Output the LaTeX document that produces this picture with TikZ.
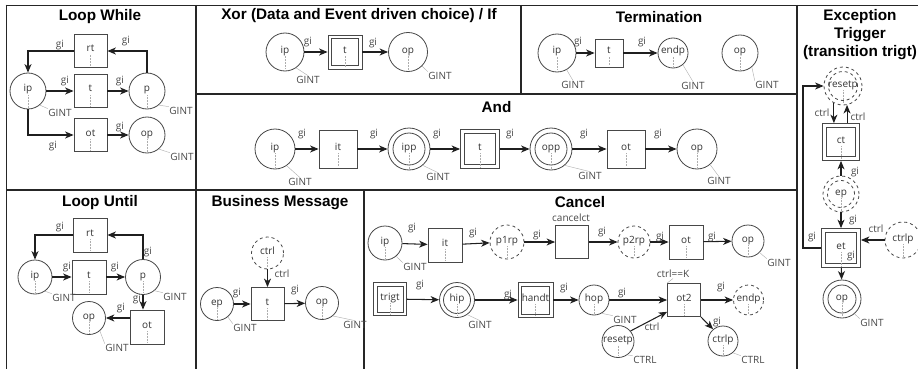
\documentclass[tikz,border=0pt]{standalone}
\usepackage{fontspec}
\newfontfamily\labfont{Open Sans}
\newfontfamily\headfont{Liberation Sans}
\usetikzlibrary{arrows.meta,calc}

\tikzset{
  frame/.style={line width=1.8pt, draw=black!85},
  head/.style={font=\headfont\bfseries\fontsize{15.3}{18}\selectfont, text=black, align=center, inner sep=0pt},
  lab/.style={font=\labfont\fontsize{10}{11}\selectfont, text=black!72, inner sep=0.5pt},
  nd/.style={draw=black!72, line width=0.8pt, inner sep=0pt,
    font=\labfont\fontsize{10}{11}\selectfont, text=black!80, text height=6pt, text depth=4pt},
  place/.style={nd, circle, minimum size=#1},
  place/.default=34pt,
  trans/.style={nd, rectangle, minimum size=#1},
  trans/.default=33pt,
  % second, inner border of a double box / double circle
  dblbox/.style={path picture={\draw[black!72, line width=0.8pt, solid]
      ([shift={(#1,-#1)}]path picture bounding box.north west) rectangle
      ([shift={(-#1,#1)}]path picture bounding box.south east);}},
  dblring/.style={path picture={\draw[black!72, line width=0.8pt, solid]
      (path picture bounding box.center) circle[radius=#1];}},
  dashring/.style={path picture={\draw[black!72, line width=0.8pt, dashed]
      (path picture bounding box.center) circle[radius=#1];}},
  flow/.style={-{Stealth[length=8.5pt,width=7pt,inset=2.5pt]}, line width=1.05pt, draw=black!88},
  lead/.style={draw=black!30, line width=0.45pt},
  inner/.style={draw=black!32, densely dotted, line width=0.5pt}
}

\begin{document}
\begin{tikzpicture}[x=1pt,y=-1pt]
\useasboundingbox (0,0) rectangle (918,369);

% panel grid
\draw[frame] (5.6,5.5) -- (918,5.5);
\draw[frame] (6.5,4.6) -- (6.5,369);
\draw[frame] (196,5) -- (196,369);
\draw[frame] (797,5) -- (797,369);
\draw[frame] (521,5) -- (521,94);
\draw[frame] (196,94) -- (797,94);
\draw[frame] (6,190) -- (797,190);
\draw[frame] (364,190) -- (364,369);

% panel headings
\node[head] (h-lw) at (100,17) {Loop While};
\node[head] (h-xor) at (359,16) {Xor (Data and Event driven choice) / If};
\node[head] (h-term) at (659,17) {Termination};
\node[head] (h-and) at (496.5,107) {And};
\node[head] (h-exc) at (860,35) {Exception\\Trigger\\(transition trigt)};
\node[head] (h-lu) at (100,203) {Loop Until};
\node[head] (h-bm) at (280,203) {Business Message};
\node[head] (h-can) at (580,202) {Cancel};

% ---------------- Loop While
\node[trans] (lw-rt) at (90.5,51) {rt};
\node[trans] (lw-t) at (90.5,91) {t};
\node[trans] (lw-ot) at (90.5,135) {ot};
\node[place=36pt] (lw-ip) at (28,91) {ip};
\node[place=36pt] (lw-p) at (147,91) {p};
\node[place=36pt] (lw-op) at (147,135) {op};
\draw[flow] (lw-rt.west) -| (lw-ip.north);
\draw[flow] (lw-p.north) |- (lw-rt.east);
\draw[flow] (lw-ip) -- (lw-t);
\draw[flow] (lw-t) -- (lw-p);
\draw[flow] (lw-ip.south) |- (lw-ot.west);
\draw[flow] (lw-ot) -- (lw-op);
\node[lab] (lw-g1) at (60,45) {gi};
\node[lab] (lw-g2) at (126,41) {gi};
\node[lab] (lw-g3) at (65,81) {gi};
\node[lab] (lw-g4) at (120,81) {gi};
\node[lab] (lw-g5) at (53,146) {gi};
\node[lab] (lw-g6) at (120,127) {gi};
\node[lab] (lw-n1) at (60,113) {GINT};
\node[lab] (lw-n2) at (181,111) {GINT};
\node[lab] (lw-n3) at (182,157) {GINT};
\draw[lead] (lw-ip.-50) -- (lw-n1.north west);
\draw[lead] (lw-p.-50) -- (lw-n2.north west);
\draw[lead] (lw-op.-50) -- (lw-n3.north west);

% ---------------- Xor / If
\node[place=38pt] (x-ip) at (285,52) {ip};
\node[trans=34pt, dblbox=3.5pt] (x-t) at (345,52) {t};
\node[place=39pt] (x-op) at (408,52) {op};
\draw[flow] (x-ip) -- (x-t);
\draw[flow] (x-t) -- (x-op);
\node[lab] (x-g1) at (308,42) {gi};
\node[lab] (x-g2) at (373,43) {gi};
\node[lab] (x-n1) at (308,80) {GINT};
\node[lab] (x-n2) at (440,76) {GINT};
\draw[lead] (x-ip.-55) -- (x-n1.north);
\draw[lead] (x-op.-45) -- (x-n2.north west);

% ---------------- Termination
\node[place=38pt] (tm-ip) at (557,53) {ip};
\node[trans=28pt] (tm-t) at (609,53) {t};
\node[place=30pt] (tm-endp) at (673,53) {endp};
\node[place=36pt] (tm-op) at (740,53) {op};
\draw[flow] (tm-ip) -- (tm-t);
\draw[flow] (tm-t) -- (tm-endp);
\node[lab] (tm-g1) at (578,42) {gi};
\node[lab] (tm-g2) at (642,42) {gi};
\node[lab] (tm-n1) at (573,85) {GINT};
\node[lab] (tm-n2) at (693,86) {GINT};
\node[lab] (tm-n3) at (767,85) {GINT};
\draw[lead] (tm-ip.-60) -- (tm-n1.north);
\draw[lead] (tm-endp.-50) -- (tm-n2.north);
\draw[lead] (tm-op.-50) -- (tm-n3.north west);

% ---------------- And
\node[place=40pt] (a-ip) at (275,149) {ip};
\node[trans=38pt] (a-it) at (338,149) {it};
\node[place=42pt, dblring=16pt] (a-ipp) at (409,149) {ipp};
\node[trans=39pt, dblbox=4pt] (a-t) at (480,149) {t};
\node[place=42pt, dblring=16pt] (a-opp) at (551,149) {opp};
\node[trans=38pt] (a-ot) at (626,149) {ot};
\node[place=40pt] (a-op) at (697,149) {op};
\draw[flow] (a-ip) -- (a-it);
\draw[flow] (a-it) -- (a-ipp);
\draw[flow] (a-ipp) -- (a-t);
\draw[flow] (a-t) -- (a-opp);
\draw[flow] (a-opp) -- (a-ot);
\draw[flow] (a-ot) -- (a-op);
\node[lab] (a-g1) at (302,134) {gi};
\node[lab] (a-g2) at (374,134) {gi};
\node[lab] (a-g3) at (437,134) {gi};
\node[lab] (a-g4) at (510,134) {gi};
\node[lab] (a-g5) at (584,134) {gi};
\node[lab] (a-g6) at (658,134) {gi};
\node[lab] (a-n1) at (300,182) {GINT};
\node[lab] (a-n2) at (438,177) {GINT};
\node[lab] (a-n3) at (590,176) {GINT};
\node[lab] (a-n4) at (719,181) {GINT};
\draw[lead] (a-ip.-55) -- (a-n1.north);
\draw[lead] (a-ipp.-50) -- (a-n2.north);
\draw[lead] (a-opp.-50) -- (a-n3.north);
\draw[lead] (a-op.-50) -- (a-n4.north);

% ---------------- Exception trigger
\node[place=38pt, dashed, dashring=14.5pt] (ex-resetp) at (843,86) {resetp};
\node[trans=37pt, dblbox=4pt] (ex-ct) at (841,142) {ct};
\node[place=36pt, dashed, dashring=13.5pt] (ex-ep) at (841,194) {ep};
\node[trans=39pt, dblbox=4pt] (ex-et) at (841,248) {et};
\node[place=38pt, dblring=14pt] (ex-op) at (842,299) {op};
\node[place=36pt, dashed] (ex-ctrlp) at (903,240) {ctrlp};
\coordinate (ex-bend) at (803,248);
\draw[flow] (ex-resetp.-118) -- (ex-resetp.-118 |- ex-ct.north);
\draw[flow] (ex-resetp.-78 |- ex-ct.north) -- (ex-resetp.-78);
\draw[flow] (ex-ep) -- (ex-ct);
\draw[flow] (ex-ep) -- (ex-et);
\draw[flow] (ex-et.west) -- (ex-et.west -| ex-bend) |- (ex-resetp.west);
\draw[flow] (ex-ctrlp.west) -- (ex-ctrlp.west -| ex-et.east);
\draw[flow] (ex-et) -- (ex-op);
\node[lab] (ex-c1) at (822,113) {ctrl};
\node[lab] (ex-c2) at (858,117) {ctrl};
\node[lab] (ex-g1) at (855,172) {gi};
\node[lab] (ex-g2) at (853,220) {gi};
\node[lab] (ex-g3) at (812,237) {gi};
\node[lab] (ex-c3) at (876,229) {ctrl};
\node[lab] (ex-g4) at (851,256) {gi};
\node[lab] (ex-n1) at (872,323) {GINT};
\draw[lead] (ex-op.-50) -- (ex-n1.north west);

% ---------------- Loop Until
\node[trans=34pt] (lu-rt) at (90,235) {rt};
\node[trans=34pt] (lu-t) at (89,277) {t};
\node[place=34pt] (lu-ip) at (35,277) {ip};
\node[place=35pt] (lu-p) at (143,277) {p};
\node[trans=34pt] (lu-ot) at (147,327) {ot};
\node[place=33pt] (lu-op) at (89,318) {op};
\draw[flow] (lu-rt.west) -| (lu-ip.north);
\draw[flow] (lu-p.north) |- (lu-rt.east);
\draw[flow] (lu-ip) -- (lu-t);
\draw[flow] (lu-t) -- (lu-p);
\draw[flow] (lu-p.south) -- (lu-p.south |- lu-ot.north);
\draw[flow] (lu-ot.west |- lu-op.east) -- (lu-op.east);
\node[lab] (lu-g1) at (60,227) {gi};
\node[lab] (lu-g2) at (148,252) {gi};
\node[lab] (lu-g3) at (67,267) {gi};
\node[lab] (lu-g4) at (115,267) {gi};
\node[lab] (lu-g5) at (137,299) {gi};
\node[lab] (lu-g6) at (121,308) {gi};
\node[lab] (lu-n1) at (64,298) {GINT};
\node[lab] (lu-n2) at (175,297) {GINT};
\node[lab] (lu-n3) at (117,348) {GINT};
\draw[lead] (lu-ip.-55) -- (lu-n1.north west);
\draw[lead] (lu-p.-50) -- (lu-n2.north west);
\draw[lead] (lu-op.-50) -- (lu-n3.north west);

% ---------------- Business message
\node[place=32pt, dashed] (bm-ctrl) at (267.5,253) {ctrl};
\node[trans=33pt] (bm-t) at (267.5,304) {t};
\node[place=33pt] (bm-ep) at (217,304) {ep};
\node[place=33pt] (bm-op) at (322,303) {op};
\draw[flow] (bm-ctrl) -- (bm-t);
\draw[flow] (bm-ep) -- (bm-t);
\draw[flow] (bm-t) -- (bm-op);
\node[lab] (bm-c1) at (282,274) {ctrl};
\node[lab] (bm-g1) at (237,293) {gi};
\node[lab] (bm-g2) at (295,290) {gi};
\node[lab] (bm-n1) at (245,328) {GINT};
\node[lab] (bm-n2) at (355,325) {GINT};
\draw[lead] (bm-ep.-50) -- (bm-n1.north west);
\draw[lead] (bm-op.-50) -- (bm-n2.north);

% ---------------- Cancel
\node[place=34pt] (c-ip) at (385,243) {ip};
\node[trans=34pt] (c-it) at (445,245) {it};
\node[place=34pt, dashed] (c-p1rp) at (507,242) {p1rp};
\node[trans=33pt] (c-cc) at (572,242) {};
\node[place=32pt, dashed] (c-p2rp) at (634,242) {p2rp};
\node[trans=34pt] (c-ot) at (686,242) {ot};
\node[place=32pt] (c-op) at (748,241) {op};
\draw[flow] (c-ip) -- (c-it);
\draw[flow] (c-it) -- (c-p1rp);
\draw[flow] (c-p1rp) -- (c-cc);
\draw[flow] (c-cc) -- (c-p2rp);
\draw[flow] (c-p2rp) -- (c-ot);
\draw[flow] (c-ot) -- (c-op);
\node[lab] (c-cclab) at (571,218) {cancelct};
\node[lab] (c-g1) at (412,228) {gi};
\node[lab] (c-g2) at (473,233) {gi};
\node[lab] (c-g3) at (537,235) {gi};
\node[lab] (c-g4) at (602,232) {gi};
\node[lab] (c-g5) at (660,237) {gi};
\node[lab] (c-g6) at (712,237) {gi};
\node[lab] (c-n1) at (415,267) {GINT};
\node[lab] (c-n2) at (779,263) {GINT};
\draw[lead] (c-ip.-50) -- (c-n1.north west);
\draw[lead] (c-op.-45) -- (c-n2.north west);

\node[trans=33pt, dblbox=3.5pt] (c-trigt) at (390,299) {trigt};
\node[place=35pt, dblring=13.5pt] (c-hip) at (457,300) {hip};
\node[trans=35pt, dblbox=3.5pt] (c-handt) at (535.5,300) {handt};
\node[place=30pt] (c-hop) at (594,300) {hop};
\node[trans=33pt] (c-ot2) at (684,300) {ot2};
\node[place=30pt, dashed] (c-endp) at (748.5,300) {endp};
\node[place=32pt] (c-resetp) at (618,341.5) {resetp};
\node[place=30pt] (c-ctrlp) at (723,341) {ctrlp};
\draw[flow] (c-trigt) -- (c-hip);
\draw[flow] (c-hip) -- (c-handt);
\draw[flow] (c-handt) -- (c-hop);
\draw[flow] (c-hop) -- (c-ot2);
\draw[flow] (c-ot2) -- (c-endp);
\draw[flow] (c-resetp.40) -- ($(c-ot2.south west)!0.15!(c-ot2.north west)$);
\draw[flow] (c-ot2.south east) -- (c-ctrlp.130);
\node[lab] (c-k) at (673,274) {ctrl==K};
\node[lab] (c-g7) at (420,285) {gi};
\node[lab] (c-g8) at (508,295) {gi};
\node[lab] (c-g9) at (564,288) {gi};
\node[lab] (c-g10) at (622,293) {gi};
\node[lab] (c-g11) at (721,287) {gi};
\node[lab] (c-g12) at (717,322) {gi};
\node[lab] (c-c1) at (652,327) {ctrl};
\node[lab] (c-n3) at (480,325) {GINT};
\node[lab] (c-n4) at (625,320) {GINT};
\node[lab] (c-n5) at (645,360) {CTRL};
\node[lab] (c-n6) at (753,360) {CTRL};
\draw[lead] (c-hip.-55) -- (c-n3.north);
\draw[lead] (c-hop.-60) -- (c-n4.north west);
\draw[lead] (c-resetp.-55) -- (c-n5.north west);
\draw[lead] (c-ctrlp.-50) -- (c-n6.north west);
\draw[lead] (c-k.south) -- (c-ot2.north west);

% faint guide under each node label
\foreach \n in {lw-rt,lw-t,lw-ot,lw-ip,lw-p,lw-op,x-ip,x-t,x-op,tm-ip,tm-t,tm-endp,tm-op,
  a-ip,a-it,a-ipp,a-t,a-opp,a-ot,a-op,ex-resetp,ex-ct,ex-ep,ex-et,ex-op,ex-ctrlp,
  lu-rt,lu-t,lu-ip,lu-p,lu-ot,lu-op,bm-ctrl,bm-t,bm-ep,bm-op,
  c-ip,c-it,c-p1rp,c-p2rp,c-ot,c-op,c-trigt,c-hip,c-handt,c-hop,c-ot2,c-endp,c-resetp,c-ctrlp}
  \draw[inner] ([yshift=-4pt]\n.center) -- ([yshift=2pt]\n.south);
\end{tikzpicture}
\end{document}
